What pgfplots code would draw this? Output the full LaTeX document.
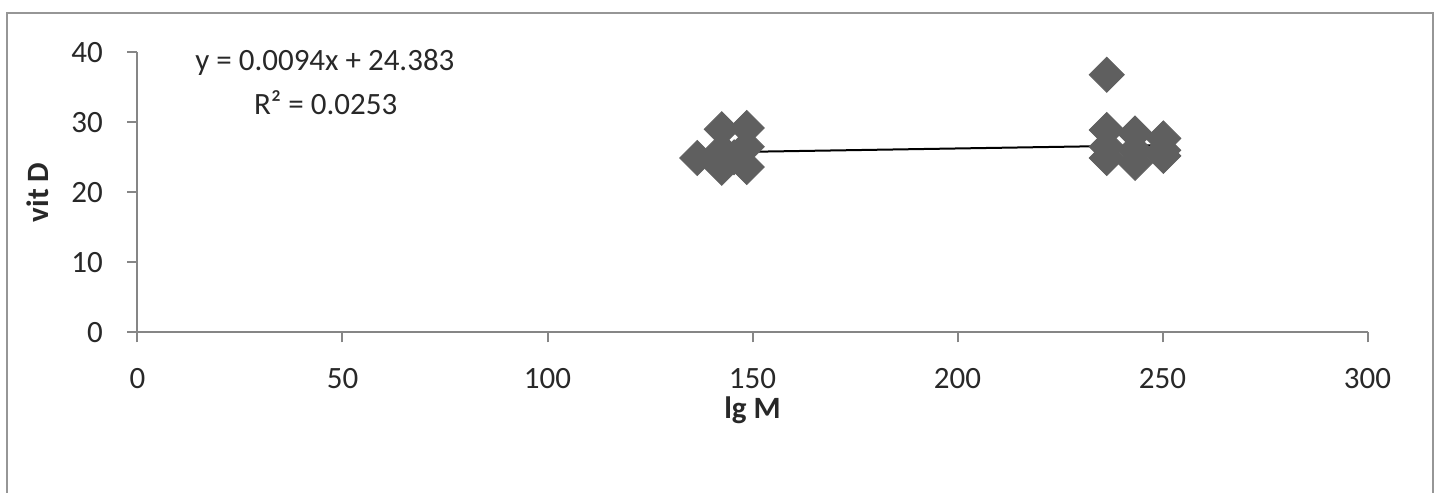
\documentclass[border=0pt]{standalone}
\usepackage{pgfplots}
\pgfplotsset{compat=1.18}
\usepackage{fontspec}
\setmainfont{Carlito}
\definecolor{axgray}{RGB}{134,134,134}
\definecolor{mkgray}{RGB}{95,95,95}
\definecolor{txt}{RGB}{40,40,40}
\definecolor{frame}{RGB}{150,150,150}
\begin{document}
\fontsize{15.5bp}{18bp}\selectfont
\begin{tikzpicture}
\useasboundingbox (-68.75bp,-80.35bp) rectangle (649.75bp,166.15bp);
\draw[frame, line width=1bp] (-65.25bp,-82bp) -- (-65.25bp,159.65bp) -- (647.75bp,159.65bp) -- (647.75bp,-82bp);
\begin{axis}[
  at={(0,0)}, anchor=south west,
  scale only axis, width=615bp, height=140bp,
  xmin=0, xmax=300, ymin=0, ymax=40,
  axis lines*=left,
  axis line style={axgray, line width=1bp},
  xtick={0,50,...,300}, ytick={0,10,...,40},
  tick align=outside, major tick length=5bp,
  tick style={axgray, line width=1bp},
  /pgf/number format/assume math mode=true,
  ticklabel style={font=\fontsize{15.5bp}{18bp}\selectfont, text=txt},
  xticklabel style={anchor=center, yshift=-18bp},
  yticklabel style={anchor=east, xshift=-7bp},
  xlabel={\textbf{lg M}}, ylabel={\textbf{vit D}},
  label style={font=\fontsize{15.5bp}{18bp}\selectfont, text=txt},
  xlabel style={at={(axis description cs:0.5,-0.2775)}, anchor=center},
  ylabel style={at={(axis description cs:-0.0809,0.5)}, anchor=center},
  clip=false,
]
\addplot[only marks, mark=square*, mark size=6.2bp, mark options={rotate=45, fill=mkgray, draw=mkgray}] coordinates {
 (136.5,24.9) (142.5,29.0) (148.6,29.2) (142.5,23.5) (148.6,23.6) (142.5,26.0) (148.6,26.5) (145.5,25.0)
 (236.4,36.8) (236.4,28.9) (243.3,28.4) (250.2,27.7) (236.4,24.9) (243.3,24.2) (250.2,26.0)
 (236.4,26.5) (243.3,26.0) (250.2,25.2)
};
\addplot[black, line width=1bp] coordinates {(136.5,25.666) (250.2,26.735)};
\node[text=txt, font=\fontsize{15.5bp}{18bp}\selectfont] at (axis cs:45.7,38.5) {y = 0.0094x + 24.383};
\node[text=txt, font=\fontsize{15.5bp}{18bp}\selectfont] at (axis cs:45.9,32.8) {R² = 0.0253};
\end{axis}
\end{tikzpicture}
\end{document}
